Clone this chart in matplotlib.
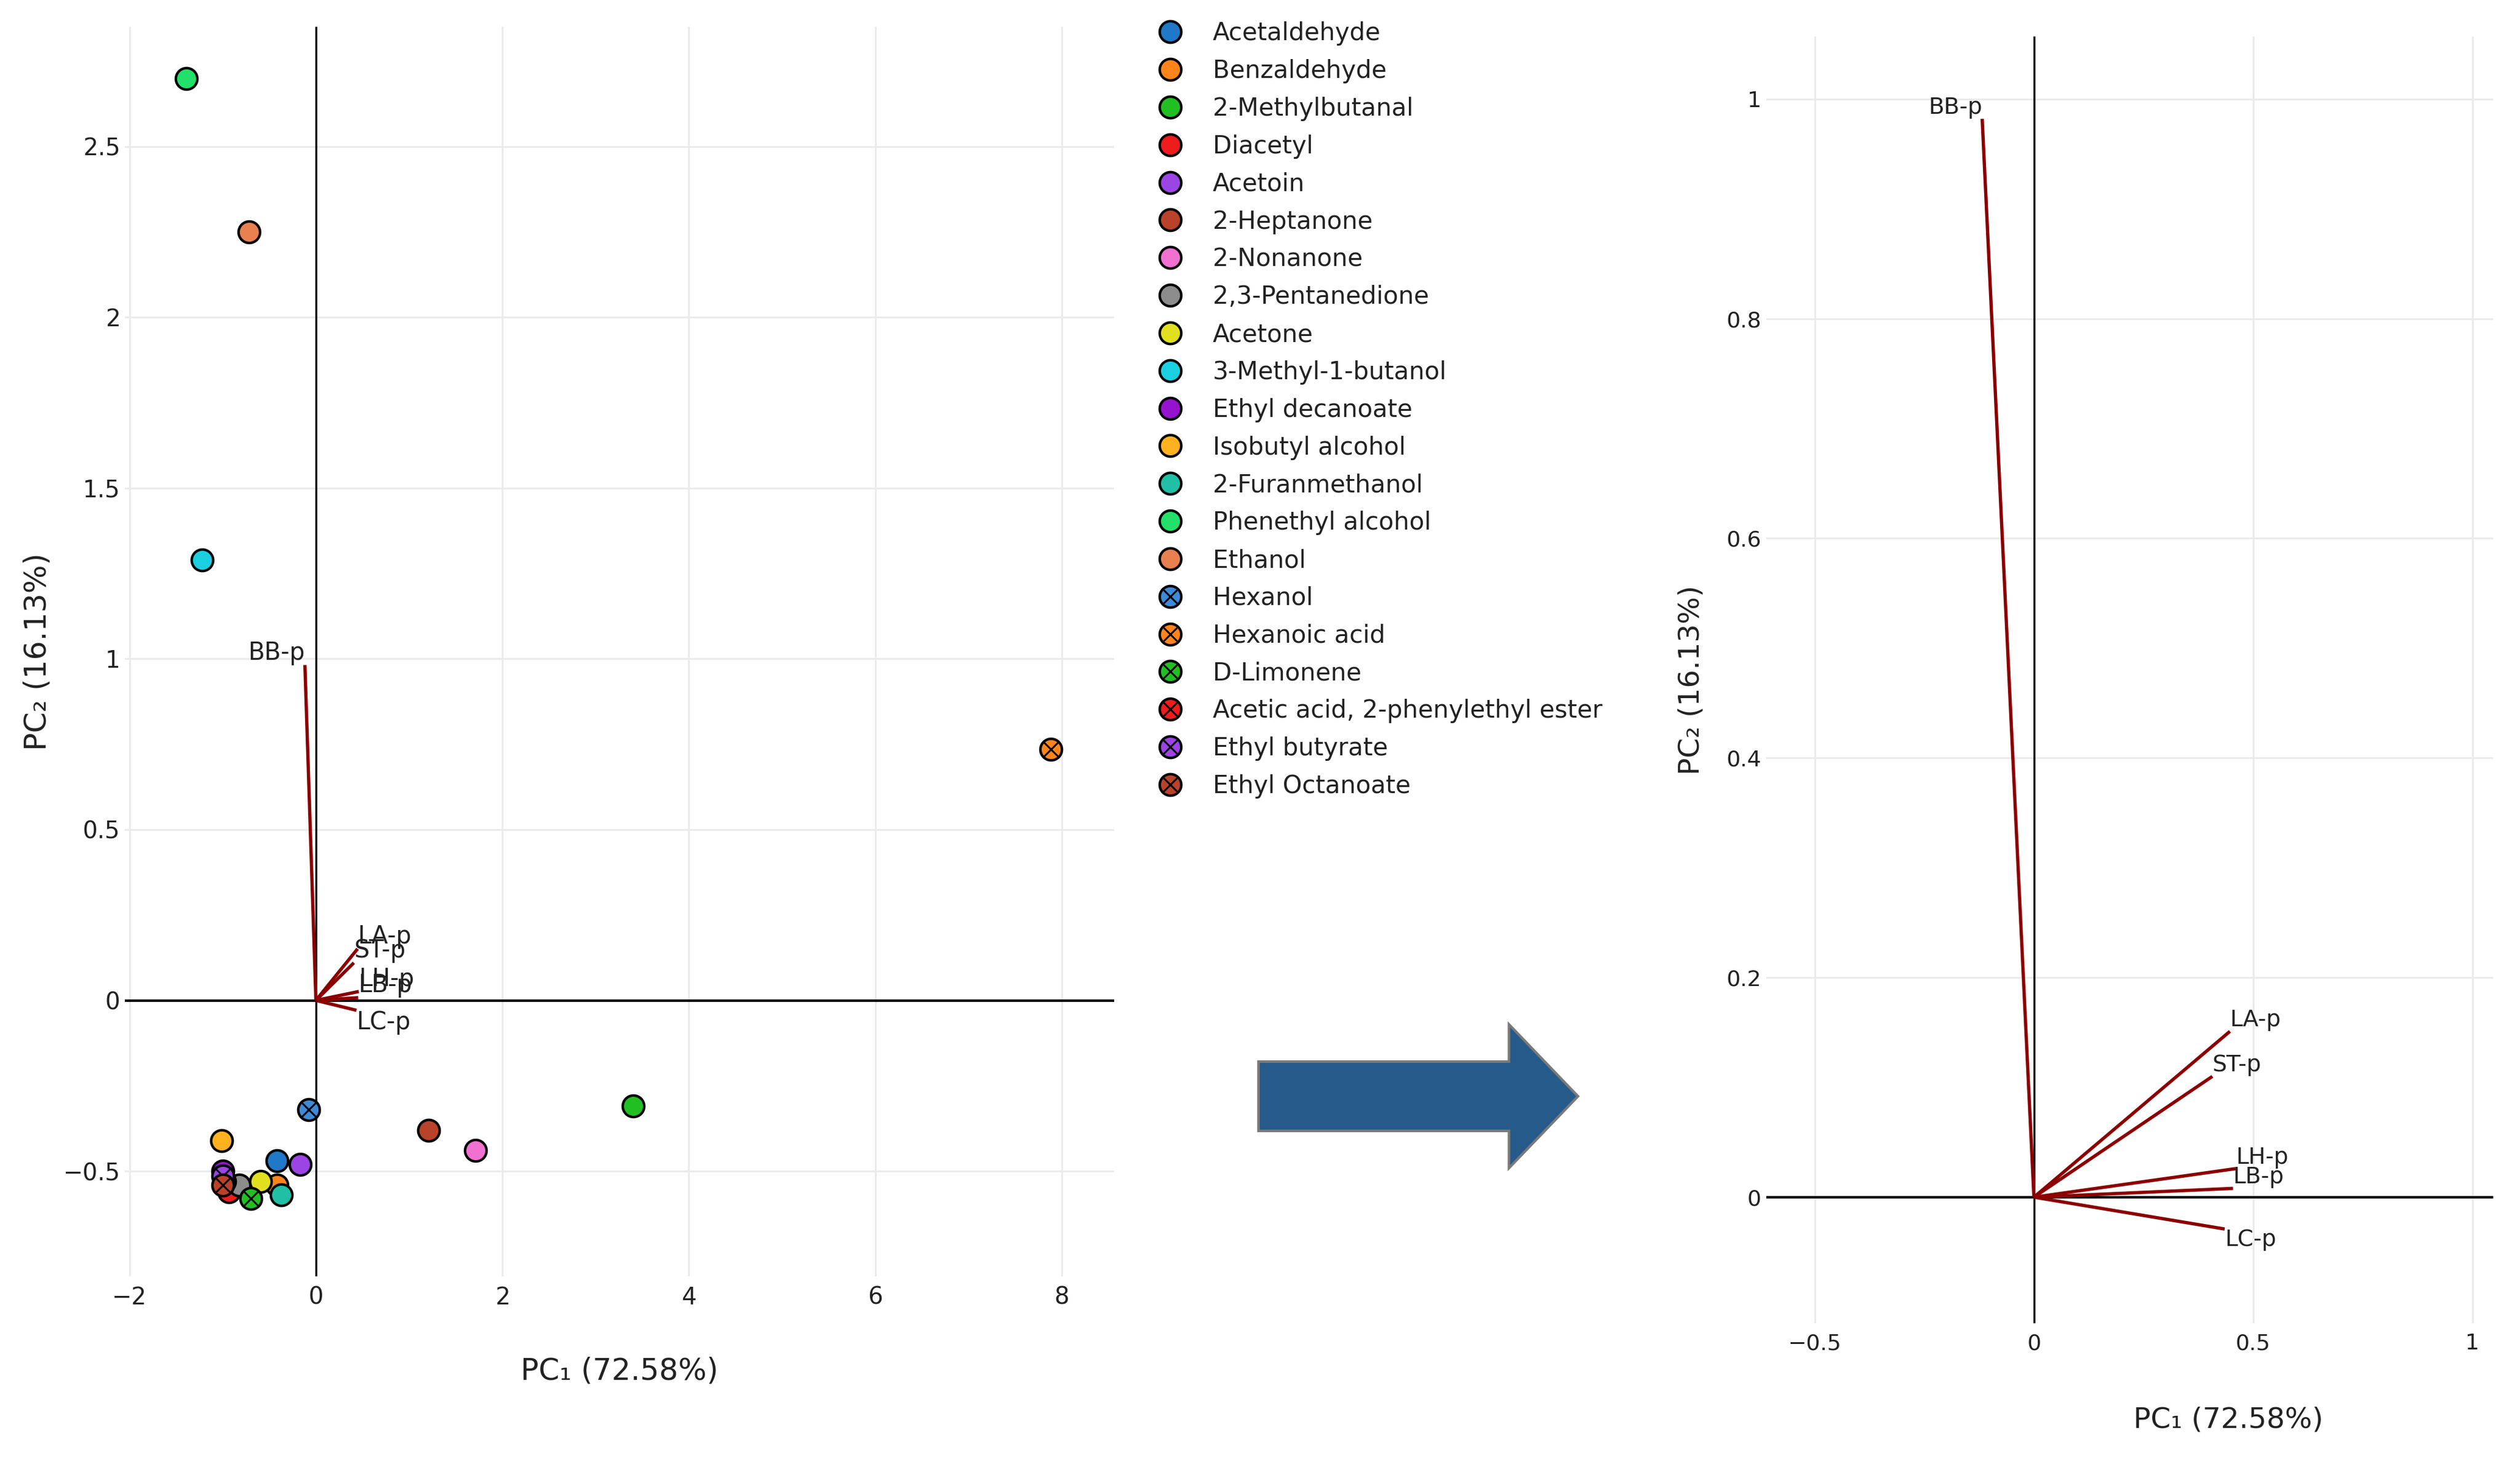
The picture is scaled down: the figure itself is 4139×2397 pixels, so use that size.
import matplotlib.pyplot as plt
from matplotlib.lines import Line2D
from matplotlib.patches import Polygon
from matplotlib.ticker import FuncFormatter

# PCA scores of the volatile compounds
compounds = ["Acetaldehyde", "Benzaldehyde", "2-Methylbutanal", "Diacetyl", "Acetoin",
             "2-Heptanone", "2-Nonanone", "2,3-Pentanedione", "Acetone",
             "3-Methyl-1-butanol", "Ethyl decanoate", "Isobutyl alcohol",
             "2-Furanmethanol", "Phenethyl alcohol", "Ethanol", "Hexanol",
             "Hexanoic acid", "D-Limonene", "Acetic acid, 2-phenylethyl ester",
             "Ethyl butyrate", "Ethyl Octanoate"]
pc1 = [-0.42, -0.42, 3.40, -0.93, -0.17, 1.21, 1.71, -0.82, -0.59, -1.22,
       -1.00, -1.01, -0.37, -1.39, -0.72, -0.08, 7.88, -0.70, -0.98, -1.00, -1.00]
pc2 = [-0.47, -0.54, -0.31, -0.56, -0.48, -0.38, -0.44, -0.54, -0.53, 1.29,
       -0.50, -0.41, -0.57, 2.70, 2.25, -0.32, 0.735, -0.58, -0.53, -0.515, -0.54]
crossed = [False] * 15 + [True] * 6
colors = ["#1f78c8", "#ff851b", "#22bf22", "#ee1c1c", "#9b45e4", "#b9432a",
          "#f171d0", "#8c8c8c", "#e0e020", "#1ccfe0", "#9512cf", "#ffb21f",
          "#21bfa6", "#22e06a", "#e8804f", "#3d8bd8", "#ff851b", "#22bf22",
          "#ee1c1c", "#9b45e4", "#b9432a"]

# loadings of the variables
variables = ["BB-p", "LA-p", "ST-p", "LH-p", "LB-p", "LC-p"]
load1 = [-0.118, 0.447, 0.407, 0.460, 0.454, 0.435]
load2 = [0.982, 0.151, 0.110, 0.026, 0.008, -0.029]

xlab = "PC\u2081 (72.58%)"
ylab = "PC\u2082 (16.13%)"

plt.rcParams['font.family'] = ['DejaVu Sans']

fig = plt.figure(figsize=(4139 / 300, 2397 / 300), dpi=300)
ax1 = fig.add_axes([0.0495, 0.1252, 0.3926, 0.8565])
ax2 = fig.add_axes([0.7008, 0.0929, 0.2885, 0.8821])

fmt = FuncFormatter(lambda v, p: f"{v:g}".replace("-", "\u2212"))


def style_axes(ax, xticks, yticks, fs):
    ax.set_xticks(xticks)
    ax.set_yticks(yticks)
    ax.xaxis.set_major_formatter(fmt)
    ax.yaxis.set_major_formatter(fmt)
    for s in ax.spines.values():
        s.set_visible(False)
    ax.tick_params(axis='both', length=0, labelsize=fs, colors='#222222')
    ax.tick_params(axis='x', pad=3.8)
    ax.tick_params(axis='y', pad=1.8)
    ax.grid(True, color='#ebebeb', linewidth=0.7)
    ax.set_axisbelow(True)
    ax.axhline(0, color='black', lw=1.0, zorder=1)
    ax.axvline(0, color='black', lw=0.8, zorder=1)


def draw_loadings(ax, fs):
    for name, x, y in zip(variables, load1, load2):
        ax.plot([0, x], [0, y], color='#8b0000', lw=1.3, zorder=2,
                solid_capstyle='butt')
        ax.annotate(name, (x, y), xytext=(0, 0), textcoords='offset points',
                    ha='right' if x < 0 else 'left',
                    va='top' if y < 0 else 'bottom',
                    fontsize=fs, color='#222222', zorder=5)


# left: biplot with scores and loadings
style_axes(ax1, [-2, 0, 2, 4, 6, 8], [-0.5, 0, 0.5, 1, 1.5, 2, 2.5], 9.3)
ax1.set_xlim(-2.05, 8.56)
ax1.set_ylim(-0.808, 2.851)
draw_loadings(ax1, 9.5)
for x, y, col, cr in zip(pc1, pc2, colors, crossed):
    ax1.scatter(x, y, s=72, color=col, edgecolors='black', linewidths=1.0, zorder=3)
    if cr:
        ax1.scatter(x, y, s=30, marker='x', color='black', linewidths=0.7, zorder=3)
ax1.set_xlabel(xlab, fontsize=11.8, color='#222222')
ax1.set_ylabel(ylab, fontsize=11.8, color='#222222')
ax1.xaxis.set_label_coords(0.5, -0.076)
ax1.yaxis.set_label_coords(-0.088, 0.5)
ax1.xaxis.label.set_va('center')
ax1.yaxis.label.set_va('center')

# right: loadings only
style_axes(ax2, [-0.5, 0, 0.5, 1], [0, 0.2, 0.4, 0.6, 0.8, 1], 8.7)
ax2.set_xlim(-0.611, 1.047)
ax2.set_ylim(-0.115, 1.057)
draw_loadings(ax2, 9)
ax2.set_xlabel(xlab, fontsize=11.3, color='#222222')
ax2.set_ylabel(ylab, fontsize=11.3, color='#222222')
ax2.xaxis.set_label_coords(0.636, -0.075)
ax2.yaxis.set_label_coords(-0.1027, 0.5)
ax2.xaxis.label.set_va('center')
ax2.yaxis.label.set_va('center')

# legend of the compounds
handles = []
for col, cr in zip(colors, crossed):
    dot = Line2D([], [], ls='none', marker='o', ms=8.5, mfc=col,
                 mec='black', mew=1.0)
    if cr:
        cross = Line2D([], [], ls='none', marker='x', ms=5.5, mec='black', mew=0.7)
        handles.append((dot, cross))
    else:
        handles.append(dot)
fig.legend(handles, compounds, loc='upper left', bbox_to_anchor=(0.4595, 0.9852),
           frameon=False, fontsize=9.7, handlelength=1.0, handletextpad=1.22,
           labelspacing=0.54, borderpad=0, borderaxespad=0, labelcolor='#222222')

# big arrow between the two panels
arrow = Polygon([(0.4994, 0.2724), (0.5988, 0.2724), (0.5988, 0.2979),
                 (0.6262, 0.2486), (0.5988, 0.1994), (0.5988, 0.2249),
                 (0.4994, 0.2249)], closed=True, transform=fig.transFigure,
                facecolor='#255a8a', edgecolor='#7a7a7a', linewidth=1.0)
fig.patches.append(arrow)

fig.savefig("out.png", dpi=300)
